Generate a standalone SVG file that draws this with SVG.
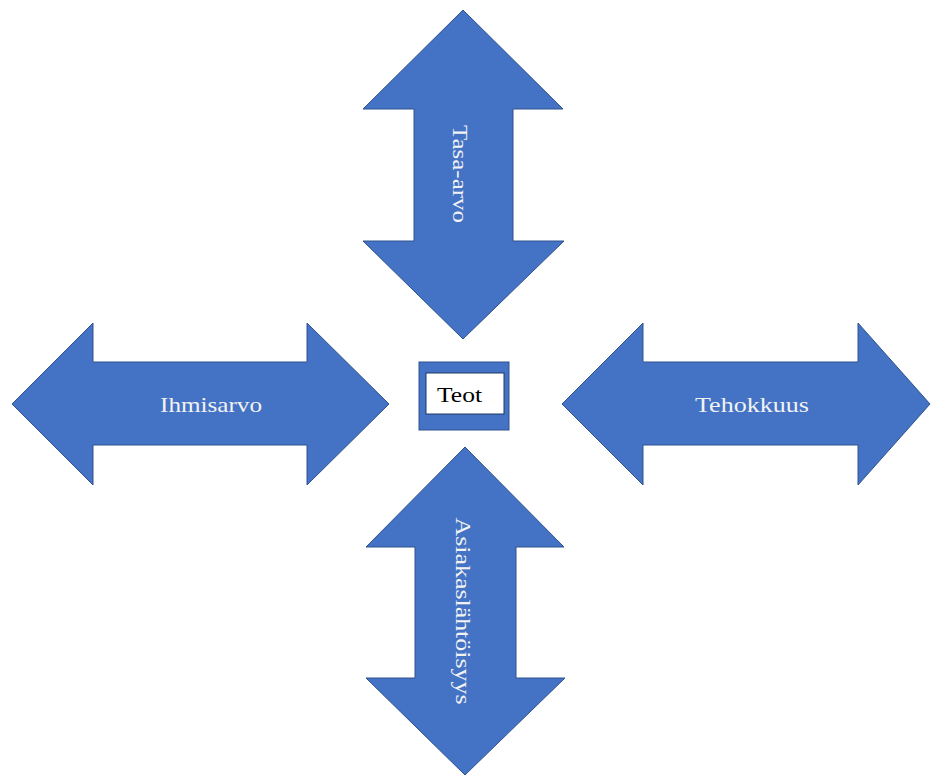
<svg xmlns="http://www.w3.org/2000/svg" width="931" height="776" viewBox="0 0 931 776">
<style>
.arr{fill:#4472C4;stroke:#2F528F;stroke-width:1}
.lbl{font-family:"Liberation Serif","DejaVu Serif",serif;font-size:22px;fill:#F2F2F2;text-anchor:middle}
</style>
<rect width="931" height="776" fill="#FFFFFF"/>
<g id="connectors">
<g id="top">
<path class="arr" d="M463,10 L563,109 L513,109 L513,241 L564,241 L463,339 L363,241 L414,241 L414,109 L363,109 Z"/>
<text class="lbl" transform="translate(453,174) rotate(90)" textLength="98" lengthAdjust="spacingAndGlyphs">Tasa-arvo</text>
</g>
<g id="left">
<path class="arr" d="M12,404 L93,323 L93,362 L307,362 L307,323 L389,404 L307,485 L307,445 L93,445 L93,485 Z"/>
<text class="lbl" x="211" y="412" textLength="102" lengthAdjust="spacingAndGlyphs">Ihmisarvo</text>
</g>
<g id="right">
<path class="arr" d="M562,404 L643,323 L643,362 L858,362 L858,323 L930,404 L858,485 L858,445 L643,445 L643,485 Z"/>
<text class="lbl" x="752" y="412" textLength="114" lengthAdjust="spacingAndGlyphs">Tehokkuus</text>
</g>
<g id="bottom">
<path class="arr" d="M465,447 L564,547 L516,547 L516,678 L565,678 L465,775 L366,678 L415,678 L415,547 L366,547 Z"/>
<text class="lbl" transform="translate(456,611) rotate(90)" textLength="187" lengthAdjust="spacingAndGlyphs">Asiakaslähtöisyys</text>
</g>
</g>
<g id="center">
<rect x="419" y="362" width="90" height="68" fill="#4472C4" stroke="#2F528F" stroke-width="1"/>
<rect x="426" y="373" width="78" height="41" fill="#FFFFFF" stroke="#1F3864" stroke-width="1"/>
<text x="459.5" y="402" font-family="Liberation Serif, DejaVu Serif, serif" font-size="22" fill="#000000" text-anchor="middle" textLength="45" lengthAdjust="spacingAndGlyphs">Teot</text>
</g>
</svg>
